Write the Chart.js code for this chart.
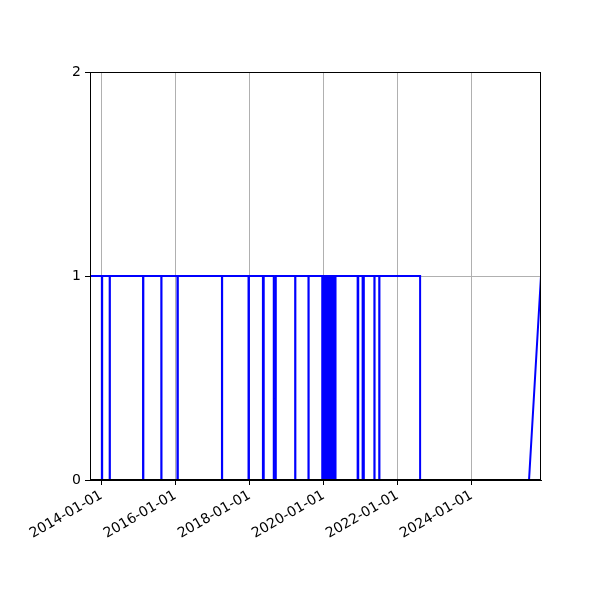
<!DOCTYPE html>
<html>
<head>
<meta charset="utf-8">
<script src="https://cdn.jsdelivr.net/npm/chart.js@4/dist/chart.umd.min.js"></script>
<style>
  html, body { margin: 0; padding: 0; background: #fff; }
</style>
</head>
<body>
<canvas id="chart" width="600" height="600"></canvas>
<script>
// ---- data ----
const firstDate = '2013-09-11';
const dipStart = [
  '2014-01-06', '2014-03-24', '2015-02-16', '2015-08-15', '2016-01-21',
  '2017-04-04', '2017-12-22', '2018-05-13', '2018-08-28', '2019-03-27',
  '2019-08-05',
  '2019-12-19', '2019-12-25', '2019-12-31', '2020-01-06', '2020-01-12',
  '2020-01-18', '2020-01-24', '2020-01-30', '2020-02-05', '2020-02-11',
  '2020-02-17', '2020-02-23', '2020-02-29', '2020-03-06', '2020-03-12',
  '2020-03-18', '2020-03-24', '2020-03-30', '2020-04-05', '2020-04-11',
  '2020-04-17', '2020-04-23',
  '2020-12-02', '2021-01-20', '2021-05-16', '2021-07-03'
];
const dipEnd = [
  '2014-01-09', '2014-03-26', '2015-02-19', '2015-08-17', '2016-01-25',
  '2017-04-06', '2017-12-26', '2018-05-21', '2018-09-17', '2019-03-29',
  '2019-08-07',
  '2019-12-24', '2019-12-30', '2020-01-05', '2020-01-11', '2020-01-17',
  '2020-01-23', '2020-01-29', '2020-02-04', '2020-02-10', '2020-02-16',
  '2020-02-22', '2020-02-28', '2020-03-05', '2020-03-11', '2020-03-17',
  '2020-03-23', '2020-03-29', '2020-04-04', '2020-04-10', '2020-04-16',
  '2020-04-22', '2020-04-28',
  '2020-12-08', '2021-02-01', '2021-05-18', '2021-07-05'
];
const outageStart = '2022-08-10';
const outageEnd = '2025-07-19';
const lastDate = '2025-11-14';

const xTickLabels = ['2014-01-01', '2016-01-01', '2018-01-01', '2020-01-01', '2022-01-01', '2024-01-01'];
const yTicks = [0, 1, 2];

// ---- build the line points ----
const t = d => Date.parse(d);
const points = [{ x: t(firstDate), y: 1 }];
dipStart.forEach((s, i) => {
  points.push({ x: t(s), y: 1 }, { x: t(s), y: 0 });
  points.push({ x: t(dipEnd[i]), y: 0 }, { x: t(dipEnd[i]), y: 1 });
});
points.push({ x: t(outageStart), y: 1 }, { x: t(outageStart), y: 0 });
points.push({ x: t(outageEnd), y: 0 }, { x: t(lastDate), y: 1 });

// black frame round the plot area
const frame = {
  id: 'frame',
  afterDraw(chart) {
    const a = chart.chartArea;
    const ctx = chart.ctx;
    ctx.save();
    ctx.strokeStyle = '#000';
    ctx.lineWidth = 1;
    ctx.strokeRect(Math.round(a.left) + 0.5, Math.round(a.top) + 0.5,
      Math.round(a.right - a.left) - 1, Math.round(a.bottom - a.top) - 1);
    ctx.restore();
  }
};

const font = { family: 'DejaVu Sans', size: 14 };

new Chart(document.getElementById('chart'), {
  type: 'line',
  data: {
    datasets: [{
      data: points,
      borderColor: '#0000ff',
      borderWidth: 2,
      // a solid "dash" keeps Chart.js off its pixel-merging fast path
      borderDash: [4000, 0],
      pointRadius: 0,
      tension: 0,
      fill: false
    }]
  },
  options: {
    responsive: false,
    animation: false,
    parsing: false,
    layout: { padding: { left: 0, right: 59, top: 72, bottom: 0 } },
    plugins: { legend: { display: false }, tooltip: { enabled: false } },
    scales: {
      x: {
        type: 'linear',
        min: t(firstDate),
        max: t(lastDate),
        afterBuildTicks: axis => { axis.ticks = xTickLabels.map(l => ({ value: t(l) })); },
        afterFit: axis => { axis.height = 120; },
        ticks: {
          callback: (v, i) => xTickLabels[i],
          minRotation: 30, maxRotation: 30,
          color: '#000', font, padding: 2,
          autoSkip: false
        },
        grid: { color: '#b0b0b0', lineWidth: 1, tickColor: '#000', tickLength: 5 },
        border: { color: '#000', width: 1 }
      },
      y: {
        min: 0, max: 2,
        afterBuildTicks: axis => { axis.ticks = yTicks.map(v => ({ value: v })); },
        afterFit: axis => { axis.width = 90; },
        ticks: { callback: v => String(v), color: '#000', font, padding: 4 },
        grid: { color: '#b0b0b0', lineWidth: 1, tickColor: '#000', tickLength: 5 },
        border: { color: '#000', width: 1 }
      }
    }
  },
  plugins: [frame]
});
</script>
</body>
</html>
